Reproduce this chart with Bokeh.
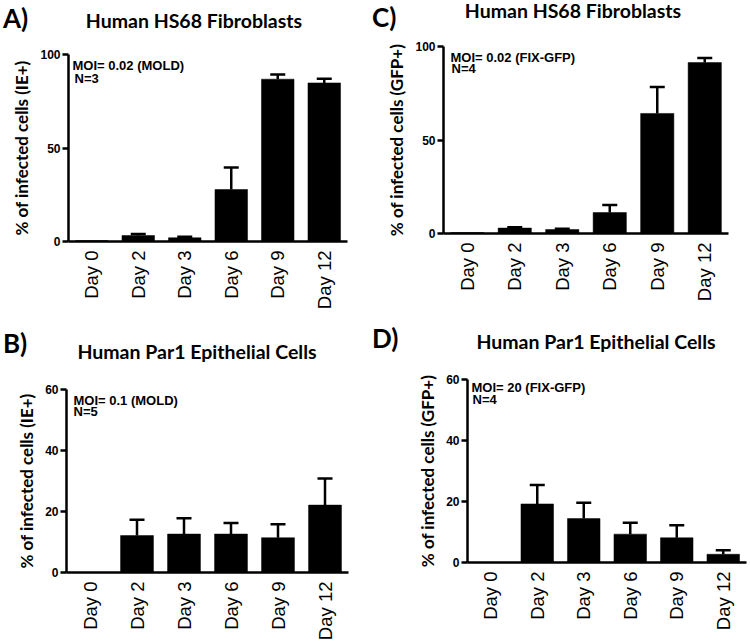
import math
from bokeh.plotting import figure
from bokeh.models import FactorRange, Range1d, FixedTicker, ColumnDataSource, Whisker, TeeHead, Label, Div
from bokeh.layouts import column, row
from bokeh.embed import file_html
from bokeh.resources import INLINE

days = ["Day 0", "Day 2", "Day 3", "Day 6", "Day 9", "Day 12"]

# Panel A: Human HS68 Fibroblasts, MOLD (IE+)
a_mean = [0.5, 3.2, 2.0, 27.8, 86.8, 84.8]
a_err = [0.0, 0.8, 0.6, 11.8, 2.5, 2.2]
# Panel C: Human HS68 Fibroblasts, FIX-GFP (GFP+)
c_mean = [0.5, 2.9, 2.1, 11.2, 64.2, 91.4]
c_err = [0.0, 0.5, 0.4, 4.1, 14.2, 2.4]
# Panel B: Human Par1 Epithelial Cells, MOLD (IE+)
b_mean = [0.0, 12.1, 12.6, 12.6, 11.4, 22.1]
b_err = [0.0, 5.2, 5.2, 3.6, 4.4, 8.7]
# Panel D: Human Par1 Epithelial Cells, FIX-GFP (GFP+)
d_mean = [0.0, 19.2, 14.4, 9.3, 8.1, 2.7]
d_err = [0.0, 6.2, 5.2, 3.7, 4.1, 1.3]

ticks_ac = [0, 50, 100]
ticks_bd = [0, 20, 40, 60]

TITLE_FONT = "Lato"
TICK_FONT = "Liberation Sans"


def header_div(width, height, letter, letter_x, letter_base, title, title_cx, title_base):
    """Panel letter and panel title, placed by baseline (Lato baseline ~0.887em below top)."""
    ls, ts = 26, 19.5
    lt = letter_base - 0.887 * ls
    tt = title_base - 0.887 * ts
    html = (
        f'<div style="position:relative;width:{width}px;height:{height}px;overflow:visible;">'
        f'<div style="position:absolute;left:{letter_x}px;top:{lt:.1f}px;font-family:Lato;'
        f'font-weight:bold;font-size:{ls}px;line-height:{ls}px;white-space:nowrap;color:black;">{letter}</div>'
        f'<div style="position:absolute;left:{title_cx}px;top:{tt:.1f}px;transform:translateX(-50%);'
        f'font-family:Lato;font-weight:bold;font-size:{ts}px;line-height:{ts}px;white-space:nowrap;color:black;">{title}</div>'
        '</div>'
    )
    return Div(text=html, width=width, height=height, margin=0)


def make_panel(width, height, borders, frame_origin, ymax, yticks, means, errs, ylabel,
               moi, moi_pos, ntext, n_pos):
    bl, br, bt, bb = borders
    p = figure(width=width, height=height, x_range=FactorRange(*days),
               y_range=Range1d(0, ymax), output_backend="svg",
               toolbar_location=None, min_border_left=bl, min_border_right=br,
               min_border_top=bt, min_border_bottom=bb)
    p.outline_line_color = None
    p.xgrid.visible = False
    p.ygrid.visible = False
    p.background_fill_color = "white"
    p.border_fill_color = "white"

    src = ColumnDataSource(dict(day=days, mean=means))
    p.vbar(x="day", top="mean", bottom=0, width=0.7, source=src,
           fill_color="black", line_color="black", line_width=0.5)

    eday = [d for d, e in zip(days, errs) if e > 0]
    elo = [m for m, e in zip(means, errs) if e > 0]
    ehi = [m + e for m, e in zip(means, errs) if e > 0]
    esrc = ColumnDataSource(dict(day=eday, lo=elo, hi=ehi))
    wk = Whisker(base="day", lower="lo", upper="hi", source=esrc,
                 line_color="black", line_width=2.5,
                 upper_head=TeeHead(size=15, line_width=2.5, line_color="black"),
                 lower_head=None)
    p.add_layout(wk)

    xa = p.xaxis[0]
    xa.major_tick_line_color = None
    xa.major_tick_in = 0
    xa.major_tick_out = 0
    xa.axis_line_width = 2.5
    xa.major_label_orientation = math.pi / 2
    xa.major_label_text_font = TICK_FONT
    xa.major_label_text_font_size = "18.5px"
    xa.major_label_text_color = "black"
    xa.major_label_standoff = 9

    ya = p.yaxis[0]
    ya.ticker = FixedTicker(ticks=yticks)
    ya.minor_tick_line_color = None
    ya.major_tick_in = 0
    ya.major_tick_out = 6
    ya.major_tick_line_width = 2.5
    ya.axis_line_width = 2.5
    ya.major_label_text_font = TICK_FONT
    ya.major_label_text_font_style = "bold"
    ya.major_label_text_font_size = "12px"
    ya.major_label_text_color = "black"
    ya.major_label_standoff = 2
    ya.axis_label = ylabel
    ya.axis_label_text_font = TITLE_FONT
    ya.axis_label_text_font_style = "bold"
    ya.axis_label_text_font_size = "17px"
    ya.axis_label_text_color = "black"
    ya.axis_label_standoff = 5

    fx, fy = frame_origin  # page position of the frame's bottom-left corner

    def add_text(txt, pos):
        px, py = pos
        p.add_layout(Label(x=px - fx, y=fy - py, x_units="screen", y_units="screen",
                           text=txt, text_font=TICK_FONT, text_font_style="bold",
                           text_font_size="13px", text_color="black",
                           text_align="left", text_baseline="alphabetic"))

    add_text(moi, moi_pos)
    add_text(ntext, n_pos)
    return p


# Row 1 (page y 0..313)
divA = header_div(375, 44, "A)", 3, 28, "Human HS68 Fibroblasts", 194, 28)
pa = make_panel(375, 269, (68, 28, 10, 72), (68, 241), 100, ticks_ac, a_mean, a_err,
                "% of infected cells (IE+)", "MOI= 0.02 (MOLD)", (72, 65), "N=3", (74, 78))
divC = header_div(375, 36, "C)", -3, 27, "Human HS68 Fibroblasts", 198, 18)
pc = make_panel(375, 269, (68, 22, 10, 72), (443, 233), 100, ticks_ac, c_mean, c_err,
                "% of infected cells (GFP+)", "MOI= 0.02 (FIX-GFP)", (450, 57), "N=4", (451, 68))

# Row 2 (page y 313..643)
divB = header_div(375, 66, "B)", 3, 40, "Human Par1 Epithelial Cells", 197, 46)
pb = make_panel(375, 264, (66, 27, 10, 69), (66, 574), 60, ticks_bd, b_mean, b_err,
                "% of infected cells (IE+)", "MOI= 0.1 (MOLD)", (73, 402), "N=5", (73, 413))
divD = header_div(375, 56, "D)", -3, 35, "Human Par1 Epithelial Cells", 221, 36)
pd_ = make_panel(375, 264, (92, 4, 10, 69), (467, 564), 60, ticks_bd, d_mean, d_err,
                 "% of infected cells (GFP+)", "MOI= 20 (FIX-GFP)", (471, 389), "N=4", (472, 401))

layout = column(row(column(divA, pa), column(divC, pc)),
                row(column(divB, pb), column(divD, pd_)))
open("out.html", "w").write(file_html(layout, INLINE))
